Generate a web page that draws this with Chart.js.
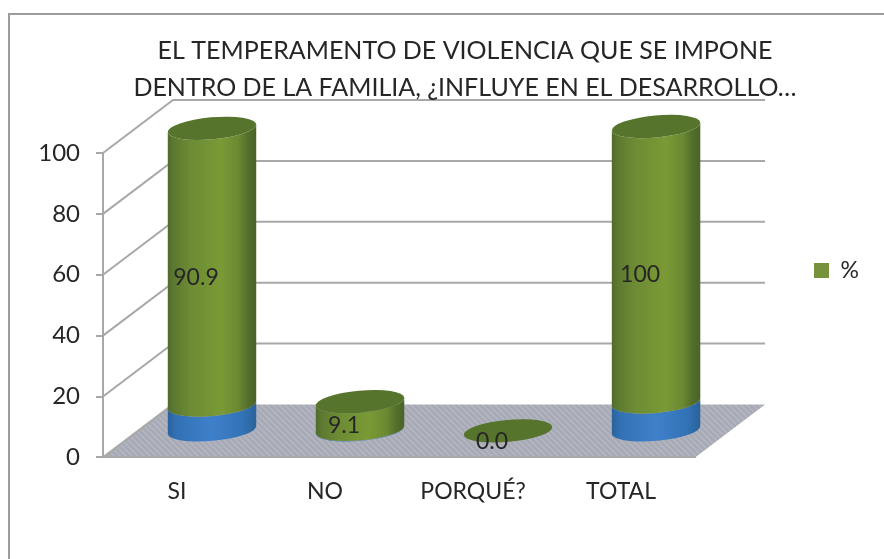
<!DOCTYPE html>
<html><head><meta charset="utf-8">
<style>html,body{margin:0;padding:0;background:#fff}canvas{display:block;filter:blur(0.4px)}</style>
<script src="https://cdn.jsdelivr.net/npm/chart.js@4"></script>
</head><body>
<canvas id="c" width="884" height="559"></canvas>
<script>
const categories = ['SI','NO','PORQUÉ?','TOTAL'];
const percentValues = [90.9, 9.1, 0.0, 100];
const lowerSegment = [8.5, 0.5, 0, 9.5];
const titleLines = ['EL TEMPERAMENTO DE VIOLENCIA QUE SE IMPONE','DENTRO DE LA FAMILIA, ¿INFLUYE EN EL DESARROLLO…'];
const yTicks = [0,20,40,60,80,100];

const FONT = 'Lato, Carlito, sans-serif';
const DEPTH_X = 70, DEPTH_Y = 53, TEXT = '#262626', GRID = '#a8a8a8';

function floorPattern(ctx){
  const p = document.createElement('canvas'); p.width = 6; p.height = 6;
  const g = p.getContext('2d');
  g.fillStyle = '#acafba'; g.fillRect(0,0,6,6);
  g.fillStyle = '#b6b8c3'; [[0,0],[1,1],[2,2],[3,3],[4,4],[5,5]].forEach(a=>g.fillRect(a[0],a[1],1,1));
  g.fillStyle = '#a2a5af'; [[3,0],[4,1],[5,2],[0,3],[1,4],[2,5]].forEach(a=>g.fillRect(a[0],a[1],1,1));
  return ctx.createPattern(p,'repeat');
}
function hGrad(ctx,l,r,stops){
  const g = ctx.createLinearGradient(l,0,r,0);
  stops.forEach(s=>g.addColorStop(s[0],s[1]));
  return g;
}
const GREEN_STOPS = [[0,'#4f6a2a'],[0.06,'#5c782f'],[0.25,'#6c8b34'],[0.6,'#7a9a36'],[0.8,'#6a8932'],[0.9,'#54702b'],[1,'#4a6227']];
const BLUE_STOPS  = [[0,'#2a639c'],[0.1,'#3271b4'],[0.5,'#3f80cb'],[0.85,'#3272b5'],[1,'#2a629a']];
const TILT = -0.09, RY = 11;

function bodyPath(ctx,cx,rx,yTop,yBot){
  ctx.beginPath();
  ctx.ellipse(cx,yTop,rx,RY,TILT,Math.PI,0,true);
  ctx.ellipse(cx,yBot,rx,RY,TILT,0,Math.PI,false);
  ctx.closePath();
}
const cylinderPlugin = {
  id:'cylinders',
  beforeDraw(chart){
    const ctx = chart.ctx, a = chart.chartArea, y = chart.scales.y;
    ctx.save();
    ctx.strokeStyle = '#9c9c9c'; ctx.lineWidth = 2;
    ctx.beginPath(); ctx.moveTo(9,559); ctx.lineTo(9,14); ctx.lineTo(884,14); ctx.stroke();
    const y0 = y.getPixelForValue(0);
    ctx.fillStyle = floorPattern(ctx);
    ctx.beginPath();
    ctx.moveTo(a.left,y0); ctx.lineTo(a.right,y0);
    ctx.lineTo(a.right+DEPTH_X,y0-DEPTH_Y); ctx.lineTo(a.left+DEPTH_X,y0-DEPTH_Y); ctx.closePath(); ctx.fill();
    ctx.strokeStyle = GRID; ctx.lineWidth = 2;
    yTicks.forEach(v=>{
      const p = y.getPixelForValue(v);
      ctx.beginPath(); ctx.moveTo(a.left,p); ctx.lineTo(a.left+DEPTH_X,p-DEPTH_Y);
      if (v>0) ctx.lineTo(a.right+DEPTH_X,p-DEPTH_Y);
      ctx.stroke();
    });
    ctx.restore();
  },
  beforeDatasetDraw(){ return false; },
  afterDatasetsDraw(chart){
    const ctx = chart.ctx, top = chart.chartArea.top;
    const metas = [chart.getDatasetMeta(0), chart.getDatasetMeta(1)];
    const stops = [BLUE_STOPS, GREEN_STOPS];
    ctx.save();
    categories.forEach((_,i)=>{
      let topY = null, topX = 0, topR = 0;
      metas.forEach((m,k)=>{
        const el = m.data[i], cx = el.x + DEPTH_X/2, rx = el.width/2;
        const yt = Math.max(el.y,top) - DEPTH_Y/2, yb = el.base - DEPTH_Y/2;
        topX = cx; topR = rx; topY = yt;
        if (yb - yt < 0.5) return;
        ctx.fillStyle = hGrad(ctx,cx-rx,cx+rx,stops[k]);
        bodyPath(ctx,cx,rx,yt,yb);
        ctx.fill();
      });
      ctx.fillStyle = '#56742b';
      ctx.beginPath(); ctx.ellipse(topX,topY,topR,RY,TILT,0,Math.PI*2); ctx.fill();
    });
    ctx.font = '23px '+FONT; ctx.fillStyle = TEXT; ctx.textAlign='center'; ctx.textBaseline='middle';
    metas[1].data.forEach((el,i)=>{
      const v = percentValues[i];
      const t = v===100 ? '100' : v.toFixed(1);
      const yt = Math.max(el.y,top);
      ctx.fillText(t, el.x+19, (yt+el.base)/2-16);
    });
    ctx.restore();
  },
  afterLayout(chart){
    const l = chart.legend, t = chart.titleBlock;
    const dx = 808 - l.left;
    l.left += dx; l.right += dx; l.top -= 4; l.bottom -= 4;
    t.left = 46; t.right = 884;
  }
};

new Chart(document.getElementById('c'),{
  type:'bar',
  data:{labels:categories,datasets:[
    {label:'lower',data:lowerSegment,backgroundColor:'#3f80cb',stack:'s',categoryPercentage:1,barPercentage:0.6},
    {label:'%',data:percentValues,backgroundColor:'#76933c',stack:'s',categoryPercentage:1,barPercentage:0.6}
  ]},
  options:{
    responsive:false,animation:false,
    layout:{padding:{left:0,right:128,top:32,bottom:42}},
    plugins:{
      tooltip:{enabled:false},
      title:{display:true,text:titleLines,color:TEXT,font:{family:FONT,size:25,weight:'normal',lineHeight:1.48},padding:{top:0,bottom:47}},
      legend:{display:true,position:'right',labels:{
        filter:i=>i.text==='%',boxWidth:15,boxHeight:15,padding:6,color:TEXT,font:{family:FONT,size:23}}}
    },
    scales:{
      x:{stacked:true,grid:{display:false},border:{display:true,color:GRID,width:2},
         ticks:{color:TEXT,font:{family:FONT,size:23},padding:12,maxRotation:0,autoSkip:false}},
      y:{stacked:true,min:0,max:100,afterFit(s){s.width=103;},
         grid:{drawOnChartArea:false,drawTicks:true,tickLength:7,color:GRID,lineWidth:2},
         border:{display:true,color:GRID,width:2},
         ticks:{stepSize:20,color:TEXT,font:{family:FONT,size:24},padding:16}}
    }
  },
  plugins:[cylinderPlugin]
});
</script>
</body></html>
